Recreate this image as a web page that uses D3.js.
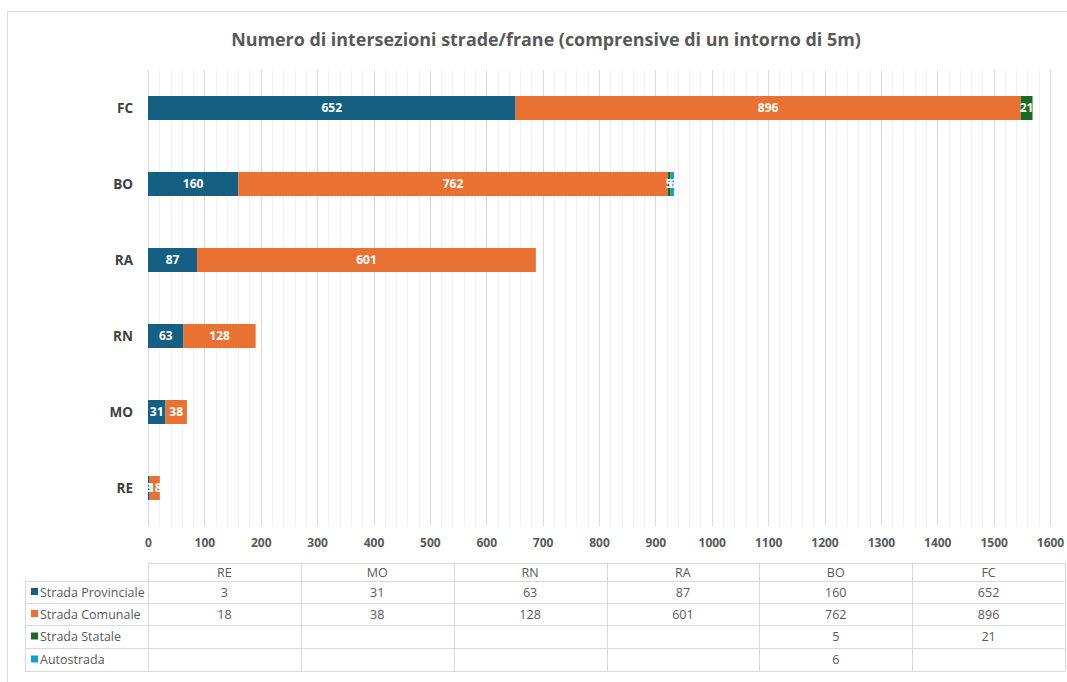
<!DOCTYPE html>
<html>
<head>
<meta charset="utf-8">
<script src="https://cdn.jsdelivr.net/npm/d3@7"></script>
<style>
  html, body { margin: 0; padding: 0; background: #ffffff; }
  svg { display: block; }
  text { font-family: "Open Sans", "Noto Sans", Arial, sans-serif; }
</style>
</head>
<body>
<svg id="chart" width="1067" height="682"></svg>
<script>
// Categories (provinces) in data order
const categories = ["RE", "MO", "RN", "RA", "BO", "FC"];

// Series values: intersections per road type
const seriesNames = ["Strada Provinciale", "Strada Comunale", "Strada Statale", "Autostrada"];
const provinciale = [3, 31, 63, 87, 160, 652];
const comunale    = [18, 38, 128, 601, 762, 896];
const statale     = [null, null, null, null, 5, 21];
const autostrada  = [null, null, null, null, 6, null];

// Axis tick labels
const xTicks = [0, 100, 200, 300, 400, 500, 600, 700, 800, 900, 1000, 1100, 1200, 1300, 1400, 1500, 1600];

const seriesValues = [provinciale, comunale, statale, autostrada];
const colors = ["#156082", "#E97132", "#196B24", "#0F9ED5"];

const rows = categories.map((c, i) => {
  const r = { cat: c };
  seriesNames.forEach((s, k) => { r[s] = seriesValues[k][i]; });
  return r;
});

const svg = d3.select("#chart");
const W = 1067, H = 682;

// Chart frame
svg.append("rect").attr("x", 0).attr("y", 0).attr("width", W).attr("height", H).attr("fill", "#fff");
svg.append("rect").attr("x", 7.5).attr("y", 11.5).attr("width", 1080).attr("height", 700)
  .attr("fill", "none").attr("stroke", "#d9d9d9").attr("stroke-width", 1);

// Title
svg.append("text")
  .attr("x", 546).attr("y", 46)
  .attr("text-anchor", "middle")
  .attr("font-size", 17.9).attr("font-weight", 700)
  .attr("fill", "#595959")
  .text("Numero di intersezioni strade/frane (comprensive di un intorno di 5m)");

const plotTop = 70, plotBottom = 526, plotLeft = 148;
const x = d3.scaleLinear().domain([0, 1600]).range([plotLeft, 1050]);
const y = d3.scaleBand()
  .domain(categories.slice().reverse())
  .range([plotTop, plotBottom])
  .paddingInner(0.684).paddingOuter(0.342);

// Minor gridlines
const minor = d3.range(0, 1601, 20).filter(v => v % 100 !== 0);
svg.append("g").selectAll("line").data(minor).join("line")
  .attr("x1", d => Math.round(x(d)) + 0.5).attr("x2", d => Math.round(x(d)) + 0.5)
  .attr("y1", plotTop).attr("y2", plotBottom)
  .attr("stroke", "#f0f0f0").attr("stroke-width", 1);

// Major gridlines
svg.append("g").selectAll("line").data(xTicks).join("line")
  .attr("x1", d => Math.round(x(d)) + 0.5).attr("x2", d => Math.round(x(d)) + 0.5)
  .attr("y1", plotTop).attr("y2", plotBottom)
  .attr("stroke", "#d9d9d9").attr("stroke-width", 1);

// Stacked bars
const stack = d3.stack().keys(seriesNames).value((d, key) => d[key] || 0);
const stacked = stack(rows);

const barG = svg.append("g");
stacked.forEach((layer, k) => {
  barG.append("g").attr("fill", colors[k])
    .selectAll("rect").data(layer.filter(d => d.data[seriesNames[k]] != null)).join("rect")
    .attr("x", d => x(d[0]))
    .attr("y", d => y(d.data.cat))
    .attr("width", d => x(d[1]) - x(d[0]))
    .attr("height", y.bandwidth());
});

// Data labels, centred on each segment
const labelG = svg.append("g");
stacked.forEach((layer, k) => {
  labelG.selectAll(null).data(layer.filter(d => d.data[seriesNames[k]] != null)).join("text")
    .attr("x", d => (x(d[0]) + x(d[1])) / 2)
    .attr("y", d => y(d.data.cat) + y.bandwidth() / 2)
    .attr("dy", "0.36em")
    .attr("text-anchor", "middle")
    .attr("font-size", 12).attr("font-weight", 700)
    .attr("fill", "#ffffff")
    .text(d => d.data[seriesNames[k]]);
});

// Category axis labels
svg.append("g").selectAll("text").data(categories).join("text")
  .attr("x", 133)
  .attr("y", d => y(d) + y.bandwidth() / 2)
  .attr("dy", "0.36em")
  .attr("text-anchor", "end")
  .attr("font-size", 13.5).attr("font-weight", 700)
  .attr("fill", "#404040")
  .text(d => d);

// Value axis
const xAxis = svg.append("g")
  .attr("transform", `translate(0,${plotBottom})`)
  .call(d3.axisBottom(x).tickValues(xTicks).tickSize(0).tickPadding(12).tickFormat(d3.format("d")));
xAxis.select(".domain").remove();
xAxis.selectAll("text")
  .attr("font-size", 12).attr("font-weight", 700)
  .attr("fill", "#595959")
  .attr("font-family", "'Open Sans', 'Noto Sans', Arial, sans-serif");

// Data table below the chart
const tLeft = 25, tColStart = 148, tRight = 1065;
const rowEdges = [563, 581, 603, 625, 648, 671];
const col = d3.scaleBand().domain(categories).range([tColStart, tRight]);
const tG = svg.append("g");
const lineColor = "#d9d9d9";

// horizontal lines
rowEdges.forEach((ry, i) => {
  tG.append("line")
    .attr("x1", i === 0 ? tColStart : tLeft).attr("x2", tRight)
    .attr("y1", ry + 0.5).attr("y2", ry + 0.5)
    .attr("stroke", lineColor);
});
// vertical lines
tG.append("line").attr("x1", tLeft + 0.5).attr("x2", tLeft + 0.5)
  .attr("y1", rowEdges[1]).attr("y2", rowEdges[5]).attr("stroke", lineColor);
[...categories.map(c => col(c)), tRight].forEach(cx => {
  tG.append("line").attr("x1", Math.round(cx) + 0.5).attr("x2", Math.round(cx) + 0.5)
    .attr("y1", rowEdges[0]).attr("y2", rowEdges[5]).attr("stroke", lineColor);
});

// header
tG.selectAll(null).data(categories).join("text")
  .attr("x", d => col(d) + col.bandwidth() / 2)
  .attr("y", (rowEdges[0] + rowEdges[1]) / 2).attr("dy", "0.36em")
  .attr("text-anchor", "middle").attr("font-size", 12.5).attr("fill", "#595959")
  .text(d => d);

// series rows with legend keys
seriesNames.forEach((s, k) => {
  const cy = (rowEdges[k + 1] + rowEdges[k + 2]) / 2;
  tG.append("rect").attr("x", 31).attr("y", cy - 4).attr("width", 7).attr("height", 7).attr("fill", colors[k]);
  tG.append("text").attr("x", 40).attr("y", cy).attr("dy", "0.36em")
    .attr("font-size", 12.5).attr("fill", "#595959").text(s);
  tG.selectAll(null).data(rows.filter(r => r[s] != null)).join("text")
    .attr("x", d => col(d.cat) + col.bandwidth() / 2)
    .attr("y", cy).attr("dy", "0.36em")
    .attr("text-anchor", "middle").attr("font-size", 12.5).attr("fill", "#595959")
    .text(d => d[s]);
});
</script>
</body>
</html>
